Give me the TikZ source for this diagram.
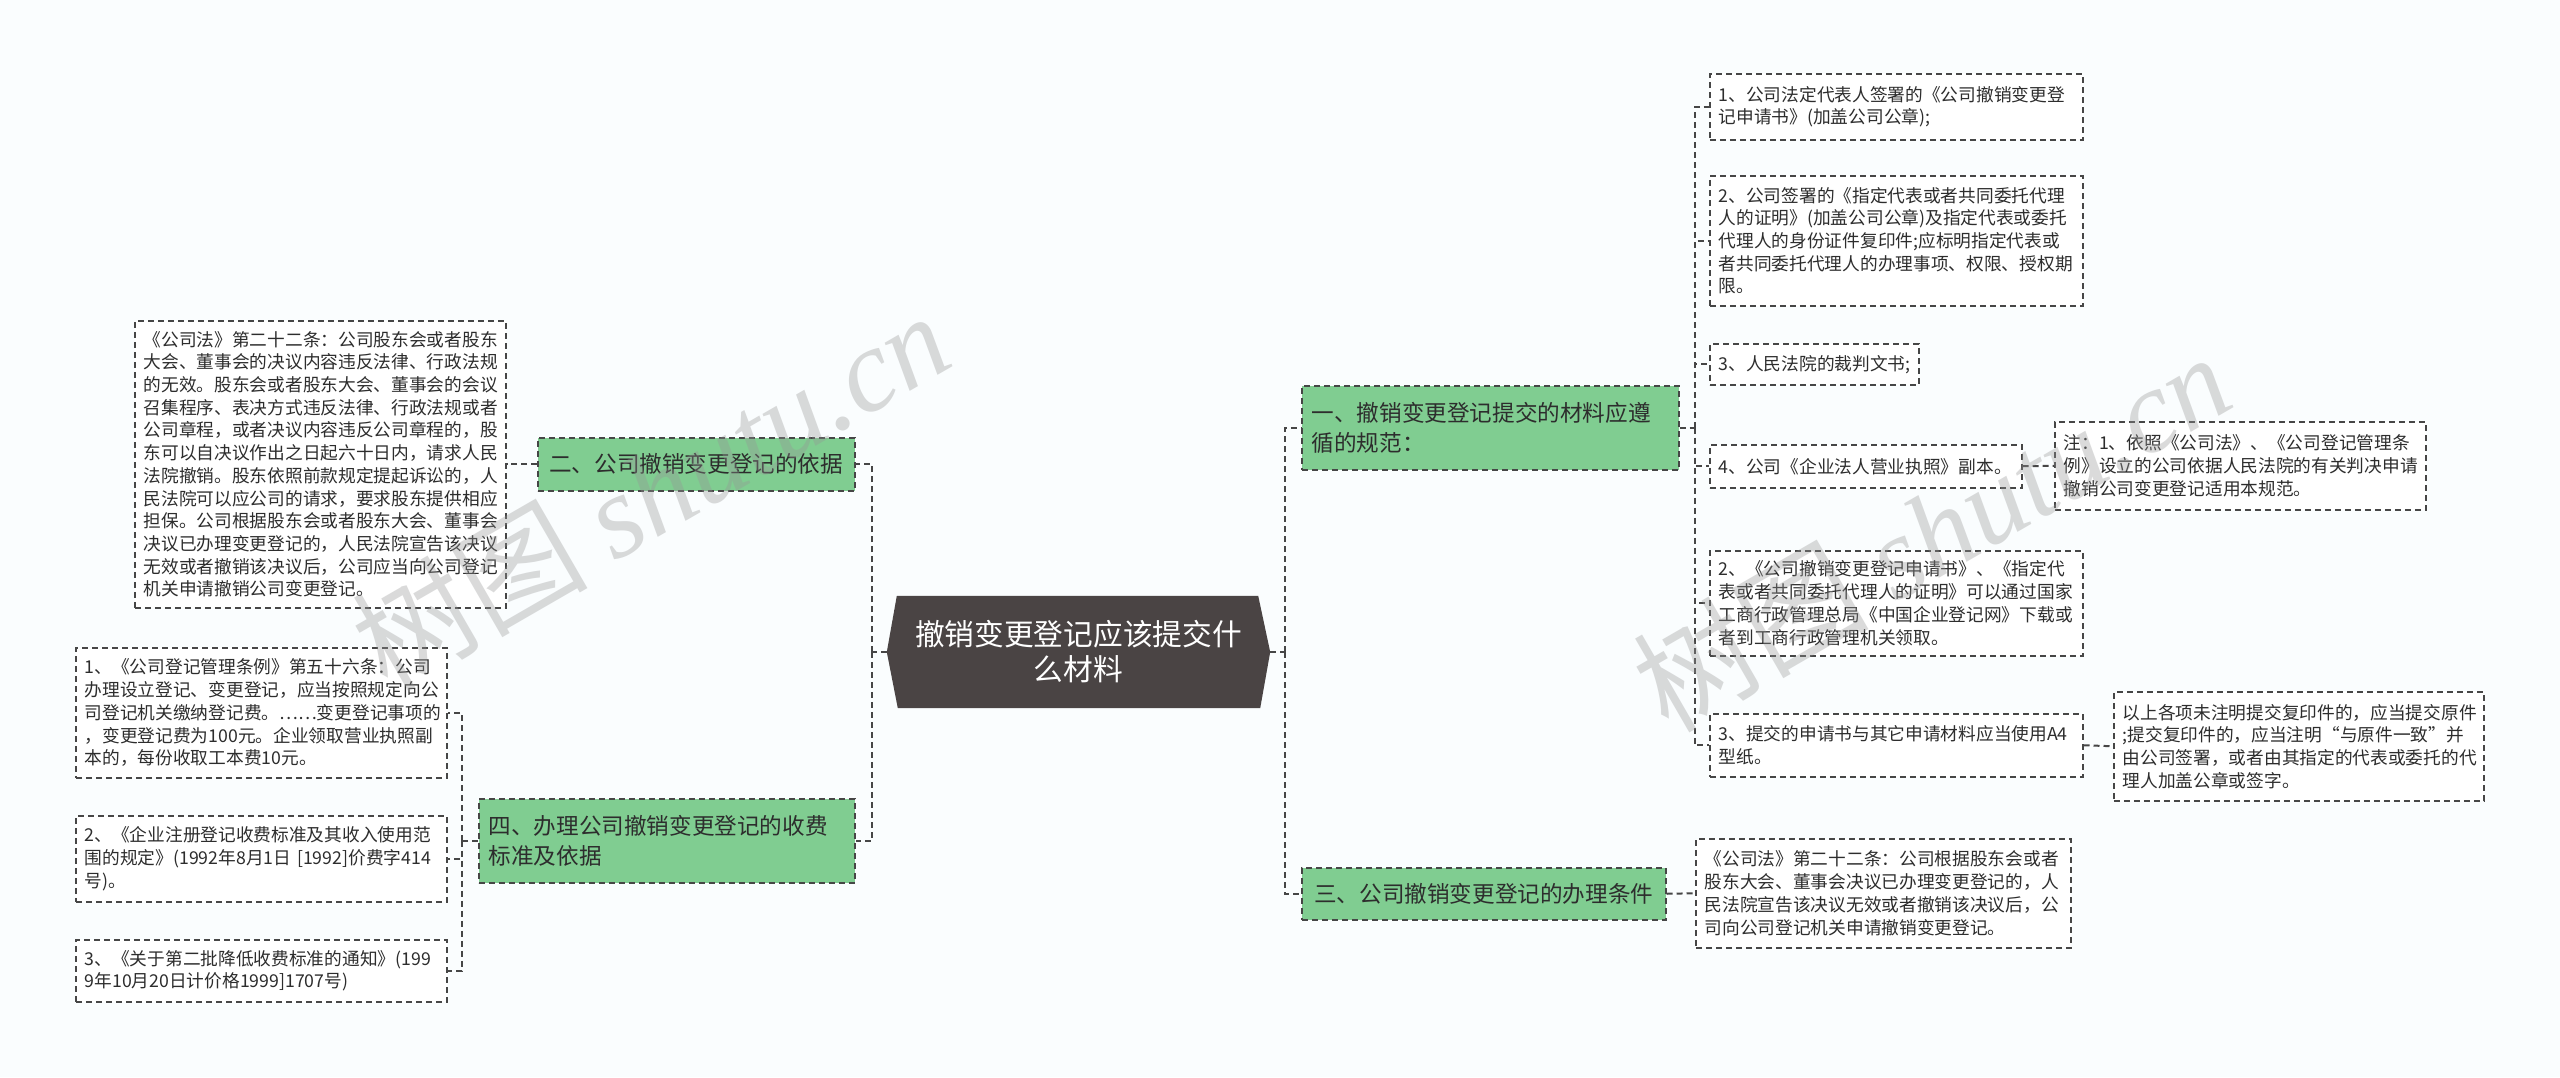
\documentclass[tikz,border=0pt]{standalone}
\usepackage{fontspec}
\setmainfont{Noto Sans CJK SC}
\newfontfamily\wmserif{Liberation Serif}
\usetikzlibrary{calc}
\definecolor{bgc}{RGB}{250,253,254}
\definecolor{greenc}{RGB}{128,205,145}
\definecolor{centerc}{RGB}{74,68,68}
\definecolor{linec}{RGB}{70,70,70}
\definecolor{textc}{RGB}{45,45,45}
\definecolor{wmc}{RGB}{150,150,150}
\tikzset{
  leafbox/.style={draw=linec, line width=1.5pt, dash pattern=on 6pt off 4pt, fill=white,
    anchor=north west, inner xsep=9pt, inner ysep=0pt, align=left, text=textc,
    font=\fontsize{17.7}{22.7}\selectfont},
  branchbox/.style={draw=linec, line width=1.5pt, dash pattern=on 6pt off 4pt, fill=greenc,
    anchor=north west, inner xsep=10pt, inner ysep=0pt, text=textc,
    font=\fontsize{22.6}{29.5}\selectfont},
  conn/.style={draw=linec, line width=2pt, dash pattern=on 6pt off 4pt},
  wm/.style={text=wmc, opacity=0.35, inner sep=0pt, font=\fontsize{118}{118}\selectfont}
}
\begin{document}
\begin{tikzpicture}[x=1pt,y=-1pt]
\useasboundingbox (0,0) rectangle (2560,1077);
\fill[bgc] (0,0) rectangle (2560,1077);

% center node
\node[minimum width=383pt, minimum height=112pt, inner sep=0pt] (c) at (1078.5,652) {};
\fill[centerc] ([xshift=10pt]c.north west) -- ([xshift=-12pt]c.north east) -- (c.east)
  -- ([xshift=-10pt]c.south east) -- ([xshift=11pt]c.south west) -- (c.west) -- cycle;
\node[text=white, align=center, font=\fontsize{29.7}{35}\selectfont] (ct) at (c.center)
  {撤销变更登记应该提交什\\么材料};

% branch nodes
\node[branchbox, minimum width=377pt, minimum height=84pt, text width=357pt, align=left] (b1) at (1301,385)
  {一、撤销变更登记提交的材料应遵\\循的规范：};
\node[branchbox, minimum width=317pt, minimum height=53pt, text width=297pt, align=center] (b2) at (537,437)
  {二、公司撤销变更登记的依据};
\node[branchbox, minimum width=364pt, minimum height=52pt, text width=344pt, align=center] (b3) at (1301,867)
  {三、公司撤销变更登记的办理条件};
\node[branchbox, minimum width=376pt, minimum height=84pt, text width=356pt, align=left] (b4) at (478,798)
  {四、办理公司撤销变更登记的收费\\标准及依据};

% left leaves
\node[leafbox, minimum width=371pt, minimum height=287pt, text width=353pt] (l2) at (134,320)
  {《公司法》第二十二条：公司股东会或者股东\\大会、董事会的决议内容违反法律、行政法规\\的无效。股东会或者股东大会、董事会的会议\\召集程序、表决方式违反法律、行政法规或者\\公司章程，或者决议内容违反公司章程的，股\\东可以自决议作出之日起六十日内，请求人民\\法院撤销。股东依照前款规定提起诉讼的，人\\民法院可以应公司的请求，要求股东提供相应\\担保。公司根据股东会或者股东大会、董事会\\决议已办理变更登记的，人民法院宣告该决议\\无效或者撤销该决议后，公司应当向公司登记\\机关申请撤销公司变更登记。};
\node[leafbox, minimum width=371pt, minimum height=130pt, text width=353pt] (l41) at (75,647)
  {1、《公司登记管理条例》第五十六条：公司\\办理设立登记、变更登记，应当按照规定向公\\司登记机关缴纳登记费。……变更登记事项的\\，变更登记费为100元。企业领取营业执照副\\本的，每份收取工本费10元。};
\node[leafbox, minimum width=371pt, minimum height=86pt, text width=353pt] (l42) at (75,815)
  {2、《企业注册登记收费标准及其收入使用范\\围的规定》(1992年8月1日~[1992]价费字414\\号)。};
\node[leafbox, minimum width=371pt, minimum height=62pt, text width=353pt] (l43) at (75,939)
  {3、《关于第二批降低收费标准的通知》(199\\9年10月20日计价格1999]1707号)};

% right leaves
\node[leafbox, minimum width=373pt, minimum height=66pt, text width=355pt] (r1) at (1709,73)
  {1、公司法定代表人签署的《公司撤销变更登\\记申请书》(加盖公司公章);};
\node[leafbox, minimum width=373pt, minimum height=130pt, text width=355pt] (r2) at (1709,175)
  {2、公司签署的《指定代表或者共同委托代理\\人的证明》(加盖公司公章)及指定代表或委托\\代理人的身份证件复印件;应标明指定代表或\\者共同委托代理人的办理事项、权限、授权期\\限。};
\node[leafbox, minimum width=209pt, minimum height=41pt, text width=191pt] (r3) at (1709,343)
  {3、人民法院的裁判文书;};
\node[leafbox, minimum width=312pt, minimum height=43pt, text width=294pt] (r4) at (1709,444)
  {4、公司《企业法人营业执照》副本。};
\node[leafbox, minimum width=371pt, minimum height=88pt, text width=353pt] (n4) at (2054,421)
  {注：1、依照《公司法》、《公司登记管理条\\例》设立的公司依据人民法院的有关判决申请\\撤销公司变更登记适用本规范。};
\node[leafbox, minimum width=373pt, minimum height=105pt, text width=355pt] (r5) at (1709,550)
  {2、《公司撤销变更登记申请书》、《指定代\\表或者共同委托代理人的证明》可以通过国家\\工商行政管理总局《中国企业登记网》下载或\\者到工商行政管理机关领取。};
\node[leafbox, minimum width=373pt, minimum height=63pt, text width=355pt] (r6) at (1709,713)
  {3、提交的申请书与其它申请材料应当使用A4\\型纸。};
\node[leafbox, minimum width=370pt, minimum height=109pt, text width=352pt] (n6) at (2113,691)
  {以上各项未注明提交复印件的，应当提交原件\\;提交复印件的，应当注明“与原件一致”并\\由公司签署，或者由其指定的代表或委托的代\\理人加盖公章或签字。};
\node[leafbox, minimum width=375pt, minimum height=109pt, text width=357pt] (t3) at (1695,838)
  {《公司法》第二十二条：公司根据股东会或者\\股东大会、董事会决议已办理变更登记的，人\\民法院宣告该决议无效或者撤销该决议后，公\\司向公司登记机关申请撤销变更登记。};

% connectors left
\draw[conn] (c.west) -- ++(-15,0) coordinate (lj);
\draw[conn] (lj) |- (b2.east);
\draw[conn] (lj) |- (b4.east);
\draw[conn] (b2.west) -- (l2.east);
\draw[conn] (b4.west) -- ++(-16,0) coordinate (lk);
\draw[conn] (lk) |- (l41.east);
\draw[conn] (lk) |- (l42.east);
\draw[conn] (lk) |- (l43.east);

% connectors right
\draw[conn] (c.east) -- ++(15,0) coordinate (rj);
\draw[conn] (rj) |- (b1.west);
\draw[conn] (rj) |- (b3.west);
\draw[conn] (b1.east) -- ++(15,0) coordinate (rk);
\draw[conn] (rk) |- (r1.west);
\draw[conn] (rk) |- (r2.west);
\draw[conn] (rk) |- (r3.west);
\draw[conn] (rk) |- (r4.west);
\draw[conn] (rk) |- (r5.west);
\draw[conn] (rk) |- (r6.west);
\draw[conn] (r4.east) -- (n4.west);
\draw[conn] (r6.east) -- (n6.west);
\draw[conn] (b3.east) -- (t3.west);

% watermarks
\node[wm, rotate=30] (w1) at (650,490) {树图 {\wmserif\itshape shutu.cn}};
\node[wm, rotate=30] (w2) at (1931,531) {树图 {\wmserif\itshape shutu.cn}};
\end{tikzpicture}
\end{document}
